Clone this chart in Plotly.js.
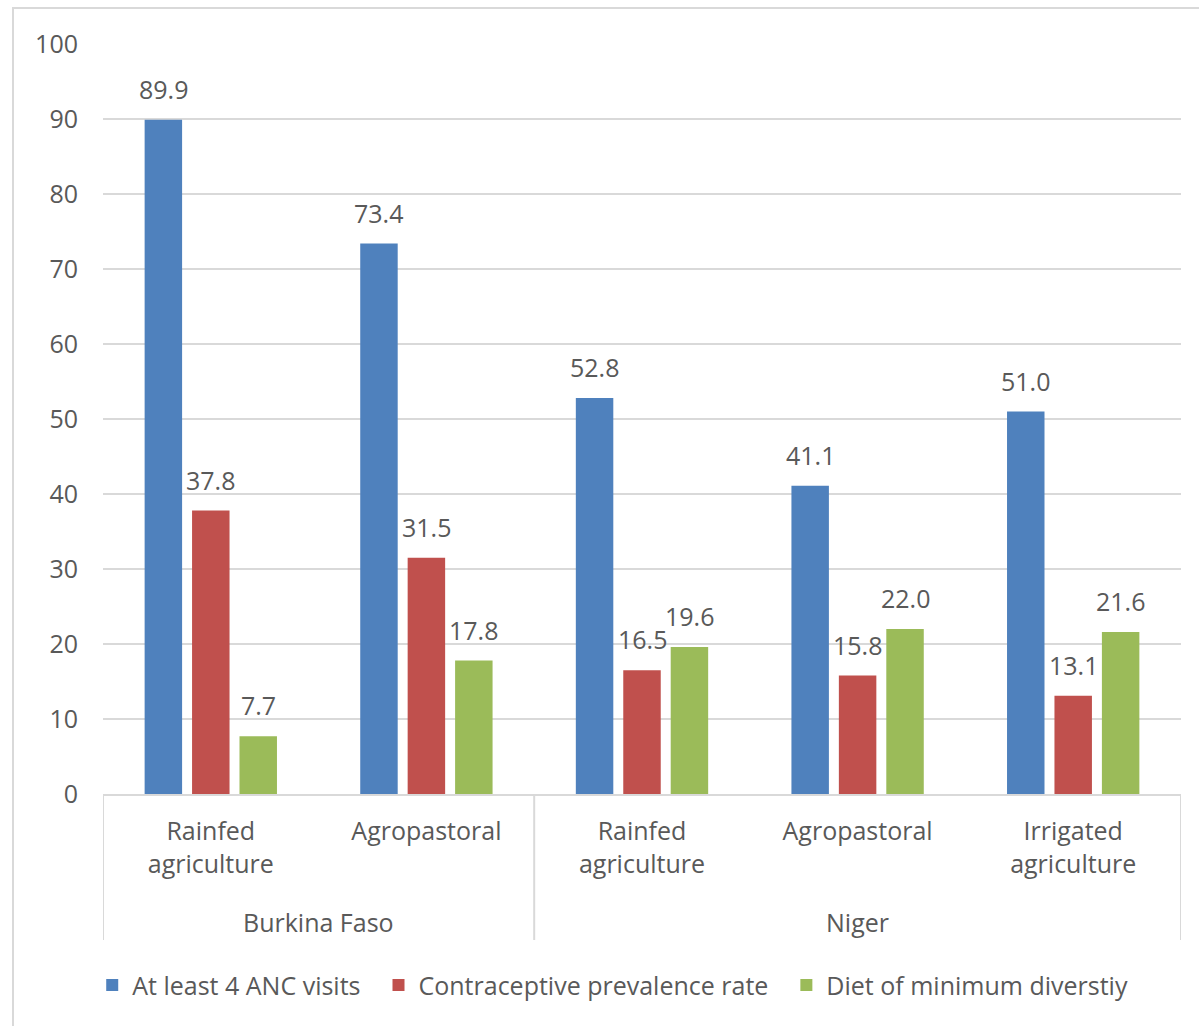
<!DOCTYPE html>
<html>
<head>
<meta charset="utf-8">
<script src="https://cdn.plot.ly/plotly-3.0.1.min.js"></script>
<style>
  html, body { margin: 0; padding: 0; background: #ffffff; }
  #chart { width: 1199px; height: 1026px; }
</style>
</head>
<body>
<div id="chart"></div>
<script>
// Livelihood zones grouped by country
const countryNames = ["Burkina Faso", "Niger"];
const countries = ["Burkina Faso", "Burkina Faso", "Niger", "Niger", "Niger"];
const zones = ["Rainfed<br>agriculture", "Agropastoral", "Rainfed<br>agriculture", "Agropastoral", "Irrigated<br>agriculture"];

// Indicator values (%)
const ancVisits = [89.9, 73.4, 52.8, 41.1, 51.0];
const contraceptive = [37.8, 31.5, 16.5, 15.8, 13.1];
const dietDiversity = [7.7, 17.8, 19.6, 22.0, 21.6];

const seriesNames = ["At least 4 ANC visits", "Contraceptive prevalence rate", "Diet of minimum diverstiy"];
const seriesColors = ["#4F81BD", "#C0504D", "#9BBB59"];
const seriesValues = [ancVisits, contraceptive, dietDiversity];

const yTicks = [0, 10, 20, 30, 40, 50, 60, 70, 80, 90, 100];

const FONT = "'Open Sans', Lato, sans-serif";
const TEXT_COLOR = "#595959";
const LINE_COLOR = "#D9D9D9";
const FS = 25;

// zone positions along the category axis
const zoneIdx = zones.map((_, i) => i);

const traces = seriesValues.map((vals, i) => ({
  type: "bar",
  // trailing no-break spaces widen the gap between legend entries
  name: seriesNames[i] + (i < seriesNames.length - 1 ? "\u00a0\u00a0" : ""),
  x: zoneIdx,
  y: vals,
  marker: { color: seriesColors[i] },
  hoverinfo: "y+name"
}));

const BARGAP = 0.34;
const annotations = [];

// Value labels above each bar, taken from the same arrays
const nSeries = seriesValues.length;
seriesValues.forEach((vals, s) => {
  vals.forEach((v, k) => {
    const offset = (s - (nSeries - 1) / 2) * ((1 - BARGAP) / nSeries);
    annotations.push({
      xref: "x", yref: "y",
      x: zoneIdx[k] + offset,
      y: v,
      text: v.toFixed(1),
      showarrow: false,
      yanchor: "middle",
      yshift: 31,
      font: { family: FONT, size: FS, color: TEXT_COLOR }
    });
  });
});

// Country (outer level) labels, centred under their zones
const shapes = [];
const groupBounds = [];
countryNames.forEach(c => {
  const idx = zoneIdx.filter(i => countries[i] === c);
  const lo = Math.min(...idx) - 0.5, hi = Math.max(...idx) + 0.5;
  groupBounds.push(lo, hi);
  annotations.push({
    xref: "x", yref: "paper",
    x: (lo + hi) / 2, y: -0.1707,
    text: c,
    showarrow: false,
    xanchor: "center", yanchor: "middle",
    font: { family: FONT, size: FS, color: TEXT_COLOR }
  });
});

// Group dividers below the axis line
[...new Set(groupBounds)].forEach(b => {
  shapes.push({
    type: "line", xref: "x", yref: "paper",
    x0: b, x1: b, y0: 0, y1: -0.1947,
    line: { color: LINE_COLOR, width: 2 }
  });
});

// chart frame: left and top edges
shapes.push({
  type: "path", xref: "paper", yref: "paper",
  path: "M -0.0835 -0.32 L -0.0835 1.048 L 1.02 1.048",
  line: { color: LINE_COLOR, width: 2 }
});

const layout = {
  width: 1199,
  height: 1026,
  margin: { l: 103, r: 18, t: 44, b: 232 },
  paper_bgcolor: "#ffffff",
  plot_bgcolor: "#ffffff",
  font: { family: FONT, size: FS, color: TEXT_COLOR },
  barmode: "group",
  bargap: BARGAP,
  bargroupgap: 0.21,
  showlegend: true,
  legend: {
    orientation: "h",
    x: -0.01, xanchor: "left",
    y: -0.255, yanchor: "middle",
    font: { family: FONT, size: FS, color: TEXT_COLOR },
    itemclick: false,
    traceorder: "normal"
  },
  xaxis: {
    range: [-0.5, zones.length - 0.5],
    tickvals: zoneIdx,
    ticktext: zones,
    ticks: "",
    showline: true,
    linecolor: LINE_COLOR,
    linewidth: 2,
    ticklabelstandoff: 14,
    tickfont: { family: FONT, size: FS, color: TEXT_COLOR },
    showgrid: false,
    zeroline: false,
    fixedrange: true
  },
  yaxis: {
    range: [0, 100],
    tickvals: yTicks,
    ticktext: yTicks.map(String),
    showgrid: true,
    gridcolor: LINE_COLOR,
    gridwidth: 2,
    zeroline: false,
    showline: false,
    ticks: "",
    ticklabelstandoff: 24,
    tickfont: { family: FONT, size: FS, color: TEXT_COLOR },
    fixedrange: true
  },
  annotations: annotations,
  shapes: shapes
};

Plotly.newPlot("chart", traces, layout, { staticPlot: true, displayModeBar: false });
</script>
</body>
</html>
